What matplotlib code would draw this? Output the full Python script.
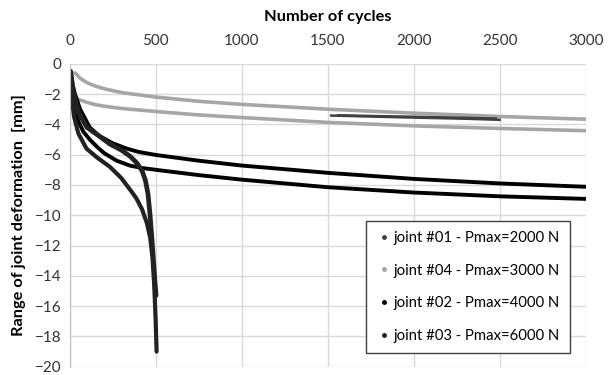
import matplotlib.pyplot as plt
from matplotlib.lines import Line2D

plt.rcParams['font.family'] = ['Lato', 'DejaVu Sans']

# joint #01 - Pmax=2000 N (two branches of the deformation range)
j01_a_x = [1520, 1800, 2100, 2300, 2500]
j01_a_y = [-3.42, -3.5, -3.58, -3.63, -3.7]
j01_b_x = [1560, 1800, 2100, 2300, 2480]
j01_b_y = [-3.38, -3.44, -3.5, -3.55, -3.6]

# joint #04 - Pmax=3000 N
j04_a_x = [30, 60, 100, 150, 200, 300, 500, 750, 1000, 1500, 2000, 2500, 3000]
j04_a_y = [-0.6, -0.95, -1.25, -1.48, -1.65, -1.9, -2.2, -2.48, -2.68, -3.0, -3.26, -3.48, -3.66]
j04_b_x = [10, 50, 100, 150, 200, 300, 500, 750, 1000, 1500, 2000, 2500, 3000]
j04_b_y = [-2.0, -2.35, -2.55, -2.7, -2.8, -2.95, -3.15, -3.38, -3.55, -3.87, -4.1, -4.27, -4.42]

# joint #02 - Pmax=4000 N
j02_a_x = [5, 15, 30, 60, 116, 170, 250, 331, 400, 500, 750, 1000, 1500, 2000, 2500, 3000]
j02_a_y = [-0.5, -1.3, -2.0, -3.0, -4.2, -4.75, -5.25, -5.6, -5.82, -6.02, -6.4, -6.72, -7.2, -7.6, -7.9, -8.12]
j02_b_x = [5, 12, 25, 50, 80, 116, 160, 200, 273, 349, 420, 500, 750, 1000, 1500, 2000, 2500, 3000]
j02_b_y = [-0.8, -1.8, -2.8, -3.8, -4.5, -5.0, -5.5, -5.9, -6.4, -6.72, -6.88, -7.0, -7.35, -7.65, -8.15, -8.5, -8.75, -8.92]

# joint #03 - Pmax=6000 N
j03_a_x = [5, 20, 50, 100, 174, 233, 300, 350, 390, 420, 440, 455, 467, 478, 488, 496, 502]
j03_a_y = [-0.5, -1.8, -3.2, -4.2, -4.8, -5.3, -5.7, -6.1, -6.55, -7.05, -7.7, -8.6, -10.0, -11.6, -13.2, -14.5, -15.3]
j03_b_x = [5, 12, 25, 50, 97, 160, 233, 300, 330, 360, 388, 420, 448, 468, 481, 491, 499, 505]
j03_b_y = [-1.0, -2.3, -3.5, -4.6, -5.6, -6.2, -6.8, -7.55, -8.0, -8.45, -8.9, -9.6, -10.5, -11.5, -12.8, -14.6, -16.8, -19.0]

labels = ['joint #01 - Pmax=2000 N', 'joint #04 - Pmax=3000 N',
          'joint #02 - Pmax=4000 N', 'joint #03 - Pmax=6000 N']
colors = ['#404040', '#a6a6a6', '#000000', '#222222']

fig = plt.figure(figsize=(6.12, 3.75), dpi=100)
ax = fig.add_axes([0.114, 0.022, 0.843, 0.808])

ax.plot(j04_a_x, j04_a_y, color=colors[1], lw=2.6, solid_capstyle='round')
ax.plot(j04_b_x, j04_b_y, color=colors[1], lw=2.6, solid_capstyle='round')
ax.plot(j01_a_x, j01_a_y, color=colors[0], lw=1.8)
ax.plot(j01_b_x, j01_b_y, color=colors[0], lw=1.4)
ax.plot(j02_a_x, j02_a_y, color=colors[2], lw=2.8, solid_capstyle='round')
ax.plot(j02_b_x, j02_b_y, color=colors[2], lw=2.8, solid_capstyle='round')
ax.plot(j03_a_x, j03_a_y, color=colors[3], lw=3.4, solid_capstyle='round')
ax.plot(j03_b_x, j03_b_y, color=colors[3], lw=3.0, solid_capstyle='round')

ax.set_xlim(0, 3000)
ax.set_ylim(-20, 0)
ax.set_xticks(range(0, 3001, 500))
ax.set_yticks(range(-20, 1, 2))
ax.xaxis.tick_top()
ax.xaxis.set_label_position('top')
ax.tick_params(length=0, labelsize=11, colors='#333333')
ax.tick_params(axis='x', pad=11)
ax.tick_params(axis='y', pad=6)
ax.grid(True, color='#d9d9d9', lw=1)
ax.set_axisbelow(True)
for side in ['top', 'right', 'bottom']:
    ax.spines[side].set_visible(False)
ax.spines['left'].set_color('#bfbfbf')

ax.set_xlabel('Number of cycles', fontsize=11.8, fontweight='bold', labelpad=10)
ax.set_ylabel('Range of joint deformation  [mm]', fontsize=11.8, fontweight='bold', labelpad=6)

handles = [Line2D([], [], ls='none', marker='o', ms=2.5, color=c) for c in colors]
leg = ax.legend(handles, labels, loc='lower right', bbox_to_anchor=(0.969, 0.045),
                fontsize=10.7, labelspacing=1.25, handletextpad=0.1, handlelength=1.0,
                borderpad=0.7, borderaxespad=0, fancybox=False, framealpha=1)
leg.get_frame().set_edgecolor('#404040')
leg.get_frame().set_linewidth(1)

fig.savefig('out.png', dpi=100)
